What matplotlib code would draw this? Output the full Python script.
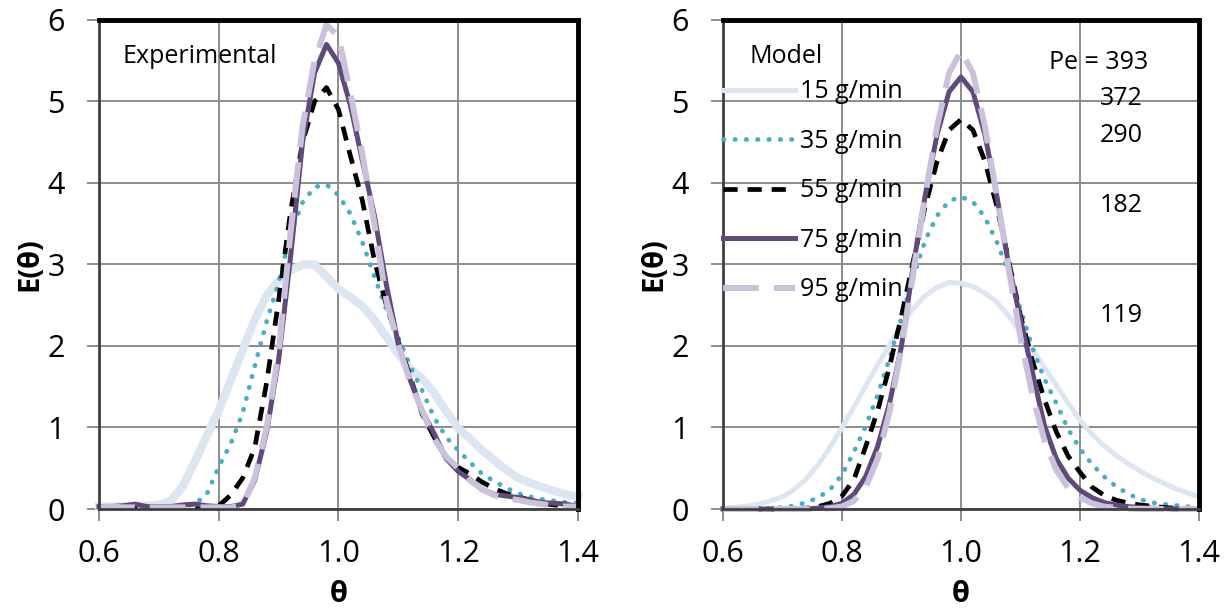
import numpy as np
import matplotlib
matplotlib.use('Agg')
import matplotlib.pyplot as plt

plt.rcParams['font.family'] = ['Open Sans', 'DejaVu Sans']

theta = [0.60, 0.62, 0.64, 0.66, 0.68, 0.70, 0.72, 0.74, 0.76, 0.78,
         0.80, 0.82, 0.84, 0.86, 0.88, 0.90, 0.92, 0.94, 0.96, 0.98,
         1.00, 1.02, 1.04, 1.06, 1.08, 1.10, 1.12, 1.14, 1.16, 1.18,
         1.20, 1.22, 1.24, 1.26, 1.28, 1.30, 1.32, 1.34, 1.36, 1.38, 1.40]

flow_labels = ['15 g/min', '35 g/min', '55 g/min', '75 g/min', '95 g/min']
peclet = ['Pe = 393', '372', '290', '182', '119']

# experimental curves
exp_15 = [0.03, 0.03, 0.03, 0.03, 0.04, 0.05, 0.10, 0.28, 0.58, 0.90,
          1.21, 1.58, 1.95, 2.32, 2.62, 2.80, 2.93, 3.00, 3.00, 2.85,
          2.70, 2.60, 2.49, 2.32, 2.11, 1.90, 1.72, 1.60, 1.42, 1.20,
          0.99, 0.86, 0.72, 0.60, 0.48, 0.38, 0.32, 0.27, 0.22, 0.18, 0.15]
exp_35 = [0.01, 0.01, 0.01, 0.01, 0.01, 0.01, 0.02, 0.03, 0.06, 0.18,
          0.52, 0.80, 1.18, 1.75, 2.30, 2.78, 3.38, 3.76, 3.95, 3.98,
          3.85, 3.62, 3.27, 2.85, 2.45, 2.10, 1.75, 1.45, 1.12, 0.88,
          0.72, 0.57, 0.43, 0.34, 0.26, 0.19, 0.15, 0.12, 0.10, 0.08, 0.07]
exp_55 = [0.02, 0.02, 0.02, 0.02, 0.02, 0.02, 0.02, 0.03, 0.02, 0.02,
          0.04, 0.17, 0.38, 0.75, 1.55, 2.56, 3.65, 4.50, 5.00, 5.17,
          4.90, 4.33, 3.78, 3.05, 2.50, 2.05, 1.62, 1.16, 0.88, 0.62,
          0.51, 0.43, 0.33, 0.25, 0.19, 0.15, 0.11, 0.07, 0.05, 0.04, 0.03]
exp_75 = [0.03, 0.03, 0.04, 0.06, 0.03, 0.03, 0.03, 0.05, 0.06, 0.04,
          0.03, 0.03, 0.06, 0.35, 0.95, 1.83, 3.10, 4.50, 5.35, 5.70,
          5.47, 4.95, 4.27, 3.60, 2.75, 2.02, 1.58, 1.20, 0.92, 0.62,
          0.46, 0.36, 0.24, 0.18, 0.16, 0.14, 0.11, 0.08, 0.07, 0.06, 0.03]
exp_95 = [0.02, 0.03, 0.02, 0.02, 0.02, 0.02, 0.02, 0.02, 0.02, 0.02,
          0.02, 0.02, 0.05, 0.38, 1.00, 1.91, 3.40, 4.70, 5.50, 5.94,
          5.80, 5.10, 4.35, 3.50, 2.56, 2.02, 1.55, 1.20, 0.86, 0.64,
          0.50, 0.35, 0.24, 0.17, 0.13, 0.11, 0.08, 0.06, 0.04, 0.03, 0.03]

# model curves
mod_15 = [0.01, 0.02, 0.035, 0.06, 0.10, 0.15, 0.24, 0.37, 0.54, 0.76,
          1.00, 1.25, 1.51, 1.77, 2.02, 2.26, 2.46, 2.62, 2.72, 2.78,
          2.77, 2.73, 2.65, 2.54, 2.37, 2.17, 1.96, 1.74, 1.52, 1.30,
          1.09, 0.92, 0.78, 0.66, 0.56, 0.47, 0.39, 0.32, 0.25, 0.20, 0.15]
mod_35 = [0.0, 0.0, 0.0, 0.01, 0.01, 0.02, 0.04, 0.08, 0.14, 0.24,
          0.42, 0.70, 1.02, 1.40, 1.85, 2.35, 2.85, 3.30, 3.60, 3.78,
          3.83, 3.77, 3.58, 3.28, 2.90, 2.45, 1.98, 1.60, 1.30, 0.98,
          0.74, 0.55, 0.40, 0.28, 0.19, 0.12, 0.08, 0.06, 0.045, 0.03, 0.02]
mod_55 = [0.0, 0.0, 0.0, 0.0, 0.0, 0.0, 0.005, 0.01, 0.03, 0.07,
          0.16, 0.36, 0.77, 1.21, 1.75, 2.37, 3.05, 3.72, 4.27, 4.65,
          4.78, 4.65, 4.27, 3.72, 3.05, 2.37, 1.82, 1.35, 0.95, 0.65,
          0.45, 0.27, 0.17, 0.11, 0.075, 0.05, 0.035, 0.02, 0.01, 0.005, 0.0]
mod_75 = [0.0, 0.0, 0.0, 0.0, 0.0, 0.0, 0.0, 0.0, 0.01, 0.03,
          0.07, 0.18, 0.40, 0.77, 1.30, 2.00, 3.00, 3.85, 4.60, 5.12,
          5.30, 5.12, 4.60, 3.85, 3.00, 2.33, 1.68, 1.03, 0.62, 0.38,
          0.23, 0.14, 0.08, 0.05, 0.03, 0.02, 0.01, 0.005, 0.0, 0.0, 0.0]
mod_95 = [0.0, 0.0, 0.0, 0.0, 0.0, 0.0, 0.0, 0.0, 0.0, 0.01,
          0.03, 0.10, 0.27, 0.62, 1.20, 1.98, 2.90, 3.85, 4.70, 5.35,
          5.62, 5.35, 4.70, 3.85, 2.95, 2.10, 1.40, 0.85, 0.48, 0.26,
          0.14, 0.07, 0.03, 0.015, 0.005, 0.0, 0.0, 0.0, 0.0, 0.0, 0.0]

styles = [
    dict(color='#dce6f2', lw=3.6, ls='-'),
    dict(color='#4bacc6', lw=3.4, ls=(0, (0.1, 2.3)), dash_capstyle='round'),
    dict(color='black', lw=3.4, ls=(0, (3, 2.1))),
    dict(color='#604a7b', lw=3.6, ls='-'),
    dict(color='#ccc1da', lw=4.3, ls=(0, (6, 2.5))),
]


def style_axes(ax):
    ax.set_xlim(0.6, 1.4)
    ax.set_ylim(0, 6)
    ax.set_xticks([0.6, 0.8, 1.0, 1.2, 1.4])
    ax.set_xticklabels(['0.6', '0.8', '1.0', '1.2', '1.4'])
    ax.set_yticks(range(7))
    ax.grid(True, color='#8c8c8c', lw=1.4)
    ax.set_axisbelow(True)
    ax.tick_params(labelsize=22, length=8.6, width=1.4, color='#8c8c8c')
    ax.tick_params(axis='x', pad=13)
    ax.tick_params(axis='y', pad=16)
    for side in ['top', 'right']:
        ax.spines[side].set_color('black')
        ax.spines[side].set_linewidth(3.5)
    for side in ['left', 'bottom']:
        ax.spines[side].set_color('#404040')
        ax.spines[side].set_linewidth(2)
    ax.set_xlabel('θ', fontsize=21, fontweight='bold', va='bottom')
    ax.xaxis.set_label_coords(0.5, -0.2035)
    ax.set_ylabel('E(θ)', fontsize=21, fontweight='bold', labelpad=2)


fig = plt.figure(figsize=(12.3, 6.09), dpi=100)
ax1 = fig.add_axes([0.0805, 0.1642, 0.3894, 0.8030])
ax2 = fig.add_axes([0.5878, 0.1642, 0.3870, 0.8030])

exp_series = [exp_15, exp_35, exp_55, exp_75, exp_95]
mod_series = [mod_15, mod_35, mod_55, mod_75, mod_95]
for i, (ys, st) in enumerate(zip(exp_series, styles)):
    st = dict(st)
    if i == 0:
        st['lw'] = 6
    ax1.plot(theta, ys, clip_on=False, **st)
for ys, st, lab in zip(mod_series, styles, flow_labels):
    ax2.plot(theta, ys, clip_on=False, label=lab, **st)

style_axes(ax1)
style_axes(ax2)

ax1.text(0.6384, 5.47, 'Experimental', fontsize=18, va='baseline', ha='left')

ax2.text(0.645, 5.47, 'Model', fontsize=18, va='baseline', ha='left')
ax2.legend(loc='upper left', bbox_to_anchor=(-0.021, 0.899), frameon=False,
           fontsize=18, handlelength=2.9, handletextpad=0.2, labelspacing=0.98,
           borderaxespad=0)

pe_base = [5.40, 4.96, 4.50, 3.64, 2.29]
ax2.text(1.314, pe_base[0], peclet[0], fontsize=18, ha='right', va='baseline')
for lab, yy in zip(peclet[1:], pe_base[1:]):
    ax2.text(1.269, yy, lab, fontsize=18, ha='center', va='baseline')

fig.savefig('out.png', dpi=100)
